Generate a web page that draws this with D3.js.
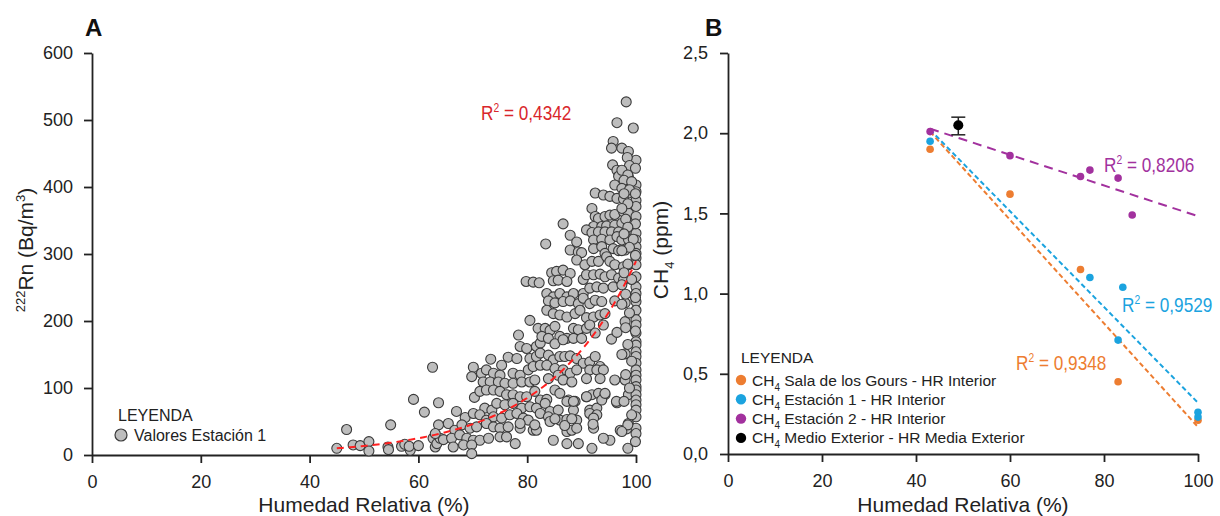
<!DOCTYPE html>
<html>
<head>
<meta charset="utf-8">
<script src="https://cdn.jsdelivr.net/npm/d3@7"></script>
<style>
  body { margin: 0; background: #fff; }
  svg text { font-family: "Liberation Sans", Arial, sans-serif; fill: #222; }
  .axis path, .axis line { stroke: #222; stroke-width: 1.8px; }
  .axis text { font-size: 18px; fill: #222; }
</style>
</head>
<body>
<div id="chart"></div>
<script>
// ---- Panel A data: [humedad %, 222Rn Bq/m3] ----
var estacion1 = [
  [45.0,10],[46.8,38],[48.0,15],[49.3,14],[50.9,20],[50.9,6],[54.4,12],[54.5,8],[54.9,45],[56.9,13],
  [57.5,16],[58.5,7],[58.3,13],[59.1,83],[60.0,14],[61.1,64],[62.6,131],[62.7,25],[63.1,12],[63.4,17],
  [64.0,25],[63.7,45],[63.1,32],[64.6,23],[63.7,78],
  [98.2,527],[96.5,496],[95.8,468],[95.5,458],[97.4,458],[98.6,453],
  [95.7,433],[96.5,425],[97.7,416],[98.6,415],[96.8,416],[98.0,396],[98.6,391],
  [92.5,391],[94.0,388],[95.2,386],[96.5,383],[97.7,382],[96.1,403],
  [91.9,368],[92.5,356],[93.1,353],[94.3,356],[95.2,358],[96.1,359],[97.7,363],[98.6,361],
  [86.6,345],[92.2,341],[93.7,341],[94.6,342],[96.1,343],[97.4,346],[98.6,348],
  [90.9,336],[91.9,332],[93.1,333],[94.3,333],[95.5,333],[96.8,333],[98.0,331],
  [87.9,328],[89.1,318],[92.2,321],[93.7,322],[95.2,321],[96.5,326],[97.4,321],[98.6,322],
  [83.4,315],[87.9,306],[89.4,303],[90.0,302],[92.2,308],[93.7,311],[94.3,301],[95.8,308],[96.8,305],[98.0,306],
  [89.1,291],[90.6,284],[91.9,289],[93.1,289],[94.6,296],[95.2,289],[96.1,284],[97.7,281],[98.6,284],
  [84.5,272],[85.4,274],[86.6,276],[87.9,271],[84.8,260],[85.7,261],[87.3,259],[90.3,262],[90.9,269],
  [92.2,269],[93.4,270],[94.3,266],[95.5,269],[96.8,264],[97.7,261],
  [79.8,259],[81.1,258],[82.2,257],
  [83.6,241],[84.8,236],[86.0,241],[87.3,236],[88.5,241],[90.3,241],[91.5,249],[92.8,251],[94.0,249],[95.8,251],[97.4,254],
  [83.9,230],[85.1,227],[86.6,229],[87.9,230],[89.4,226],[90.3,234],[91.5,226],[92.5,231],[93.7,229],[96.1,230],[98.0,227],
  [83.6,216],[84.8,211],[86.0,209],[87.3,206],[88.8,211],[89.7,216],[90.9,205],[92.2,206],[93.4,209],[94.3,211],[98.0,199],
  [80.5,201],[82.0,189],[83.3,189],[84.2,186],[85.1,192],[86.0,177],[87.3,174],[88.5,189],[89.4,187],[90.9,189],
  [91.5,194],[92.5,182],[94.0,194],[95.5,173],[96.5,183],
  [78.4,179],[78.7,162],[79.9,159],[81.7,162],[82.4,167],[82.7,177],[83.9,174],[85.1,166],[86.6,172],[88.5,174],[90.0,174],
  [73.3,143],[75.3,134],[76.5,146],[78.1,144],[80.5,144],[81.7,147],[82.4,152],[83.9,149],[84.8,142],[86.0,147],
  [86.9,147],[87.9,148],[89.1,144],[90.3,137],[91.5,139],[92.5,147],[93.4,132],[98.0,151],
  [70.1,131],[71.6,122],[72.5,127],[73.8,122],[75.0,119],[77.4,122],[78.7,119],[80.2,127],[81.1,132],[82.4,134],
  [83.6,134],[85.1,129],[86.6,127],[87.9,122],[89.1,127],[91.5,127],[92.8,127],[94.0,127],[98.0,112],
  [69.8,117],[71.9,109],[73.2,109],[74.7,109],[75.9,107],[77.4,107],[79.0,109],[80.5,109],[81.4,112],[83.9,114],
  [85.7,119],[86.6,112],[88.2,109],[90.9,114],[93.4,114],[96.1,112],
  [70.3,86],[71.3,95],[72.5,97],[73.8,97],[75.0,95],[76.2,90],[77.4,90],[78.7,87],[79.9,87],[81.4,95],
  [82.4,82],[83.6,83],[85.1,97],[86.0,92],[87.6,82],[88.8,80],[90.9,87],[91.9,90],[93.1,92],[94.3,90],
  [72.2,70],[73.5,67],[74.4,77],[75.9,75],[77.4,77],[79.0,70],[80.5,72],[81.7,70],[83.3,77],[84.2,65],
  [85.7,67],[87.3,80],[88.5,67],[91.5,67],[92.8,70],[93.7,82],[96.5,78],[98.6,90],
  [67.0,65],[68.6,56],[70.1,62],[71.3,60],[72.5,52],[73.8,57],[75.3,55],[76.8,60],[78.1,62],[79.3,55],
  [80.2,52],[82.4,62],[83.9,57],[86.0,52],[87.3,53],[89.1,52],[91.5,62],[92.8,60],[98.6,47],
  [65.5,47],[66.7,37],[68.0,45],[69.5,40],[70.7,42],[72.5,47],[73.8,42],[75.0,40],[76.5,42],[78.7,40],
  [81.1,37],[84.2,50],[84.8,22],[87.3,35],[88.2,37],[89.1,40],[92.2,40],[95.2,22],[97.1,37],
  [66.1,25],[67.6,30],[68.9,25],[70.1,22],[71.3,22],[72.9,25],[75.0,27],[76.2,27],[77.8,17],[81.7,37],
  [87.3,17],[89.4,17],[91.9,10],[94.0,25],
  [66.4,12],[68.3,15],[69.8,15],[69.8,2],
  [78.7,47],[81.4,45],[86.9,44],[88.2,54],[85.1,54],[92.2,55],[92.1,46],[88.5,80],[90.9,87],[94.3,92],[96.4,80],[98.3,39],
  [99.5,488],[100,440],[100,403],[100,393],[100,380],[100,371],[100,356],[100,331],[100,321],[100,311],
  [100,301],[100,294],[100,284],[100,266],[100,251],[100,241],[100,229],[100,216],[100,202],[100,194],
  [100,182],[100,169],[100,164],[100,154],[100,147],[100,137],[100,127],[100,119],[100,112],[100,102],
  [100,97],[100,90],[100,82],[100,75],[100,67],[100,57],[100,40],[100,32],
  [98.4,444],[98.8,432],[99.9,428],[97.4,425],[98.5,418],[97.8,410],[99.2,408],[97.4,398],[98.8,396],[97.8,390],
  [99.9,390],[98.5,375],[97.4,368],[98.1,352],[99.9,345],[98.5,340],[97.8,330],[99.5,322],[98.8,310],[97.4,305],
  [99.9,298],[98.5,285],[97.8,272],[99.2,262],[98.1,240],[99.9,235],[97.4,225],[98.8,212],[98.1,190],[99.9,185],
  [98.5,165],[97.4,150],[99.2,140],[98.1,120],[98.8,100],[97.8,80],[99.2,60],[98.5,45],[97.4,35],[99.9,20],[98.5,10]
];
// exponential trendline: y = a * e^(b*x), from x=45 to x=100
var expFitA = [0.636, 0.0612];
var expRangeA = [45, 100];
var r2A = "0,4342";

// ---- Panel B data ----
var hrGours = [43, 60, 75, 83, 100];
var ch4Gours = [1.90, 1.62, 1.15, 0.45, 0.21];
var hrEst1 = [43, 77, 84, 83, 100, 100];
var ch4Est1 = [1.95, 1.10, 1.04, 0.71, 0.26, 0.23];
var hrEst2 = [43, 60, 75, 77, 83, 86];
var ch4Est2 = [2.01, 1.86, 1.73, 1.77, 1.72, 1.49];
var hrExterior = [49];
var ch4Exterior = [2.05];
var ch4ExteriorErr = [[1.99, 2.10]];
var trendRangeB = [43, 100];
var r2B = ["0,9348", "0,9529", "0,8206"];
var legendB = ["Sala de los Gours - HR Interior", "Estación 1 - HR Interior", "Estación 2 - HR Interior", "Medio Exterior - HR Media Exterior"];

var xTicks = [0, 20, 40, 60, 80, 100];
var yTicksA = [0, 100, 200, 300, 400, 500, 600];
var yTicksB = [0, 0.5, 1, 1.5, 2, 2.5];

var colors = ["#ED7D31", "#1BA3DF", "#A2319E", "#000000"];
var comma = function(d){ return d3.format(".1f")(d).replace(".", ","); };

var svg = d3.select("#chart").append("svg")
  .attr("width", 1220).attr("height", 516);

// condensed "R² = value" label
function r2Label(x, y, value, color) {
  var t = svg.append("text")
    .attr("transform", "translate(" + x + "," + y + ") scale(0.86,1)")
    .style("font-size", "20px");
  t.append("tspan").text("R").style("fill", color);
  t.append("tspan").text("2").attr("dy", -8).style("font-size", "12px").style("fill", color);
  t.append("tspan").text(" = " + value).attr("dy", 8).style("fill", color);
}

// ================= Panel A =================
var xA = d3.scaleLinear().domain([0, 100]).range([92, 636]);
var yA = d3.scaleLinear().domain([0, 600]).range([455, 53]);

svg.append("g").attr("class", "axis")
  .attr("transform", "translate(0,455)")
  .call(d3.axisBottom(xA).tickValues(xTicks).tickSize(8).tickSizeOuter(0).tickPadding(12));
svg.append("g").attr("class", "axis")
  .attr("transform", "translate(92,0)")
  .call(d3.axisLeft(yA).tickValues(yTicksA).tickSize(8).tickSizeOuter(0).tickPadding(11));

svg.append("g").selectAll("circle")
  .data(estacion1).enter().append("circle")
  .attr("cx", function(d){ return xA(d[0]); })
  .attr("cy", function(d){ return yA(d[1]); })
  .attr("r", 5)
  .style("fill", "#BDBDBD")
  .style("stroke", "#3a3a3a")
  .style("stroke-width", 1.1);

var expPts = d3.range(expRangeA[0], expRangeA[1] + 0.01, 0.5);
svg.append("path")
  .datum(expPts)
  .attr("d", d3.line()
    .x(function(d){ return xA(d); })
    .y(function(d){ return yA(expFitA[0] * Math.exp(expFitA[1] * d)); }))
  .style("fill", "none")
  .style("stroke", "#FF2020")
  .style("stroke-width", 2)
  .style("stroke-dasharray", "7,5");

r2Label(481, 120, r2A, "#D9262B");

// legend A
svg.append("text").attr("x", 118).attr("y", 421).style("font-size", "16px").text("LEYENDA");
svg.append("circle").attr("cx", 121).attr("cy", 435).attr("r", 6)
  .style("fill", "#BDBDBD").style("stroke", "#3a3a3a").style("stroke-width", 1.2);
svg.append("text").attr("x", 134).attr("y", 441).style("font-size", "16px").text("Valores Estación 1");

// titles A
svg.append("text").attr("x", 85).attr("y", 36)
  .style("font-size", "24px").style("font-weight", "bold").style("fill", "#111").text("A");
svg.append("text").attr("x", 364).attr("y", 512).attr("text-anchor", "middle")
  .style("font-size", "21px").text("Humedad Relativa (%)");
var ylA = svg.append("text")
  .attr("transform", "translate(33,250) rotate(-90)")
  .attr("text-anchor", "middle")
  .style("font-size", "21px");
ylA.append("tspan").text("222").attr("dy", -8).style("font-size", "13px");
ylA.append("tspan").text("Rn (Bq/m").attr("dy", 8);
ylA.append("tspan").text("3").attr("dy", -8).style("font-size", "13px");
ylA.append("tspan").text(")").attr("dy", 8);

// ================= Panel B =================
var xB = d3.scaleLinear().domain([0, 100]).range([728, 1198]);
var yB = d3.scaleLinear().domain([0, 2.5]).range([454, 53]);

svg.append("g").attr("class", "axis")
  .attr("transform", "translate(0,454)")
  .call(d3.axisBottom(xB).tickValues(xTicks).tickSize(8).tickSizeOuter(0).tickPadding(12));
svg.append("g").attr("class", "axis")
  .attr("transform", "translate(728,0)")
  .call(d3.axisLeft(yB).tickValues(yTicksB).tickFormat(comma).tickSize(8).tickSizeOuter(0).tickPadding(12));

var seriesB = [
  {hr: hrGours, ch4: ch4Gours, color: colors[0], dash: "5,3"},
  {hr: hrEst1, ch4: ch4Est1, color: colors[1], dash: "5,3"},
  {hr: hrEst2, ch4: ch4Est2, color: colors[2], dash: "9,6"}
];

function linFit(xs, ys) {
  var mx = d3.mean(xs), my = d3.mean(ys), sxy = 0, sxx = 0;
  xs.forEach(function(x, i){ sxy += (x - mx) * (ys[i] - my); sxx += (x - mx) * (x - mx); });
  var m = sxy / sxx;
  return function(x){ return my + m * (x - mx); };
}

seriesB.forEach(function(s){
  var f = linFit(s.hr, s.ch4);
  svg.append("path")
    .datum(trendRangeB)
    .attr("d", d3.line().x(function(d){ return xB(d); }).y(function(d){ return yB(f(d)); }))
    .style("fill", "none")
    .style("stroke", s.color)
    .style("stroke-width", 2)
    .style("stroke-dasharray", s.dash);
});

seriesB.forEach(function(s){
  svg.append("g").selectAll("circle")
    .data(d3.zip(s.hr, s.ch4)).enter().append("circle")
    .attr("cx", function(d){ return xB(d[0]); })
    .attr("cy", function(d){ return yB(d[1]); })
    .attr("r", 3.8)
    .style("fill", s.color);
});

// exterior point with error bar
var ext = d3.zip(hrExterior, ch4Exterior, ch4ExteriorErr);
var eg = svg.append("g").selectAll("g").data(ext).enter().append("g");
eg.append("line")
  .attr("x1", function(d){ return xB(d[0]); }).attr("x2", function(d){ return xB(d[0]); })
  .attr("y1", function(d){ return yB(d[2][0]); }).attr("y2", function(d){ return yB(d[2][1]); })
  .style("stroke", "#222").style("stroke-width", 1.5);
[0, 1].forEach(function(k){
  eg.append("line")
    .attr("x1", function(d){ return xB(d[0]) - 7; }).attr("x2", function(d){ return xB(d[0]) + 7; })
    .attr("y1", function(d){ return yB(d[2][k]); }).attr("y2", function(d){ return yB(d[2][k]); })
    .style("stroke", "#222").style("stroke-width", 1.5);
});
eg.append("circle")
  .attr("cx", function(d){ return xB(d[0]); })
  .attr("cy", function(d){ return yB(d[1]); })
  .attr("r", 5).style("fill", "#000");

// R2 labels B
var r2Pos = [[1016, 370], [1122, 312], [1104, 172]];
r2B.forEach(function(v, i){ r2Label(r2Pos[i][0], r2Pos[i][1], v, colors[i]); });

// legend B
svg.append("text").attr("x", 741).attr("y", 363).style("font-size", "15.5px").text("LEYENDA");
legendB.forEach(function(lbl, i){
  var yy = 380 + i * 19.3;
  svg.append("circle").attr("cx", 741).attr("cy", yy).attr("r", 5.2).style("fill", colors[i]);
  var t = svg.append("text").attr("x", 752).attr("y", yy + 5.5).style("font-size", "15.5px");
  t.append("tspan").text("CH");
  t.append("tspan").text("4").attr("dy", 5).style("font-size", "10px");
  t.append("tspan").text(" " + lbl).attr("dy", -5);
});

// titles B
svg.append("text").attr("x", 705).attr("y", 36)
  .style("font-size", "24px").style("font-weight", "bold").style("fill", "#111").text("B");
svg.append("text").attr("x", 963).attr("y", 512).attr("text-anchor", "middle")
  .style("font-size", "21px").text("Humedad Relativa (%)");
var ylB = svg.append("text")
  .attr("transform", "translate(668,250) rotate(-90)")
  .attr("text-anchor", "middle")
  .style("font-size", "21px");
ylB.append("tspan").text("CH");
ylB.append("tspan").text("4").attr("dy", 6).style("font-size", "13px");
ylB.append("tspan").text(" (ppm)").attr("dy", -6);
</script>
</body>
</html>
